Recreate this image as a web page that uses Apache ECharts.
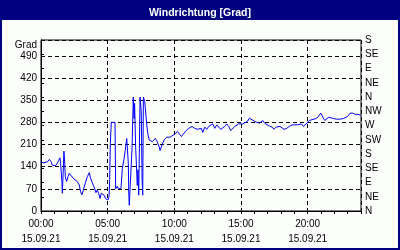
<!DOCTYPE html>
<html>
<head>
<meta charset="utf-8">
<script src="https://cdn.jsdelivr.net/npm/echarts@6/dist/echarts.min.js"></script>
<style>
html,body{margin:0;padding:0;background:#fcfefc;}
#c{width:400px;height:250px;}
</style>
</head>
<body>
<div id="c"></div>
<script>
// time of day in hours (15.09.21)
const hours = [
0.00,0.08,0.22,0.37,0.52,0.63,0.75,0.87,1.12,1.22,1.32,1.42,1.47,1.57,1.60,1.68,1.72,1.78,1.82,1.92,
2.02,2.12,2.27,2.42,2.57,2.72,2.87,2.97,3.07,3.17,3.32,3.47,3.62,3.72,3.82,3.92,4.02,4.12,4.22,4.32,
4.43,4.52,4.62,4.73,4.85,4.93,5.02,5.10,5.15,5.20,5.27,5.55,5.60,5.72,5.80,5.90,6.00,6.10,6.23,6.32,
6.43,6.47,6.55,6.58,6.62,6.73,6.83,6.92,6.98,7.02,7.10,7.22,7.27,7.33,7.43,7.52,7.58,7.63,7.68,7.78,
7.85,7.93,8.03,8.12,8.23,8.35,8.48,8.57,8.68,8.78,8.87,8.93,9.08,9.23,9.43,9.68,9.83,10.03,10.23,10.38,
10.53,10.68,10.88,11.08,11.33,11.53,11.73,11.88,12.03,12.13,12.28,12.43,12.58,12.73,12.88,13.03,13.18,13.33,13.48,13.63,
13.78,13.93,14.08,14.23,14.38,14.53,14.68,14.83,14.98,15.13,15.28,15.48,15.63,15.83,16.03,16.18,16.38,16.50,16.63,16.78,
16.93,17.13,17.33,17.48,17.63,17.78,17.93,18.08,18.23,18.43,18.62,18.83,19.03,19.23,19.38,19.53,19.68,19.83,19.98,20.13,
20.28,20.48,20.68,20.83,20.98,21.08,21.18,21.28,21.43,21.58,21.73,21.93,22.18,22.43,22.68,22.83,22.98,23.18,23.38,23.58,
23.78,23.98
];
// wind direction in degrees
const degrees = [
154,150,152,150,156,163,156,144,144,151,159,168,151,93,56,140,189,151,108,93,
108,119,114,103,98,93,82,61,51,66,88,108,121,103,98,82,72,58,66,56,
40,56,54,50,39,37,35,45,100,213,280,280,70,78,70,75,72,134,165,192,
229,234,150,60,18,20,200,360,292,340,200,81,130,50,360,313,102,50,360,345,
313,272,239,224,219,219,224,229,222,216,202,191,209,224,233,233,237,243,251,243,
235,240,254,261,267,261,258,254,261,248,265,258,267,265,275,261,272,267,258,254,
267,275,267,254,258,267,272,275,279,275,279,283,293,288,283,281,277,282,286,277,
271,268,265,258,265,260,267,261,258,261,267,272,272,272,268,275,267,272,279,286,
290,290,293,300,309,302,293,286,290,296,290,292,290,290,292,292,298,309,309,305,
305,302
];
const leftTicks = [0,70,140,210,280,350,420,490];
const compass = ['N','NE','E','SE','S','SW','W','NW','N','NE','E','SE','S'];
const dateLabel = '15.09.21';

const font = 'Liberation Sans';
const chart = echarts.init(document.getElementById('c'), null, {renderer:'canvas'});
const pad = n => (n < 10 ? '0' : '') + n;

chart.setOption({
  backgroundColor: '#fcfefc',
  animation: false,
  title: {
    text: 'Windrichtung [Grad]',
    left: 'center', top: 3,
    textStyle: {color:'#ffffff', fontFamily: font, fontWeight:'bold', fontSize:10.5}
  },
  graphic: [
    {type:'rect', z:-1, silent:true, shape:{x:0,y:0,width:400,height:20}, style:{fill:'#000080'}},
    {type:'rect', z:-1, silent:true, shape:{x:1,y:1,width:398,height:248}, style:{fill:'none', stroke:'#000080', lineWidth:2}}
  ],
  grid: {left:41, right:39, top:40, bottom:39, show:true, borderColor:'#000', borderWidth:1, backgroundColor:'transparent'},
  xAxis: [
    {
      type:'value', min:0, max:24, interval:1, position:'bottom',
      axisLine:{show:true, lineStyle:{color:'#000', width:1}},
      axisTick:{show:true, length:3, lineStyle:{color:'#000'}},
      splitLine:{show:false},
      axisLabel:{
        color:'#000', fontFamily:font, fontSize:10, margin:6, lineHeight:15,
        formatter: v => (v % 5 === 0 && v < 24) ? pad(v) + ':00\n' + dateLabel : ''
      }
    },
    {
      type:'value', min:0, max:24, interval:5, position:'bottom',
      axisLine:{show:false}, axisTick:{show:false}, axisLabel:{show:false},
      splitLine:{show:true, lineStyle:{color:'#000', type:[4,3], width:1}}
    }
  ],
  yAxis: [
    {
      type:'value', min:0, max:540, interval:70, position:'left',
      axisLine:{show:true, lineStyle:{color:'#000'}},
      axisTick:{show:false},
      splitLine:{show:true, lineStyle:{color:'#000', type:[4,3], width:1}},
      axisLabel:{
        color:'#000', fontFamily:font, fontSize:10, margin:4,
        formatter: v => leftTicks.indexOf(v) >= 0 ? String(v) : (v === 540 ? '{g|Grad}' : ''),
        rich:{g:{fontFamily:font, fontSize:10, color:'#000', padding:[10,0,0,0]}}
      }
    },
    {
      type:'value', min:0, max:540, interval:45, position:'right',
      axisLine:{show:true, lineStyle:{color:'#000'}},
      axisTick:{show:true, inside:false, length:3, lineStyle:{color:'#000'}},
      splitLine:{show:false},
      axisLabel:{
        color:'#000', fontFamily:font, fontSize:10, margin:4,
        formatter: v => compass[Math.round(v/45)]
      }
    }
  ],
  series: [{
    type:'line', xAxisIndex:0, yAxisIndex:0,
    data: hours.map((h,i) => [h, degrees[i]]),
    showSymbol:false, symbol:'none',
    lineStyle:{color:'#0000ff', width:1},
    clip:true
  }]
});
</script>
</body>
</html>
